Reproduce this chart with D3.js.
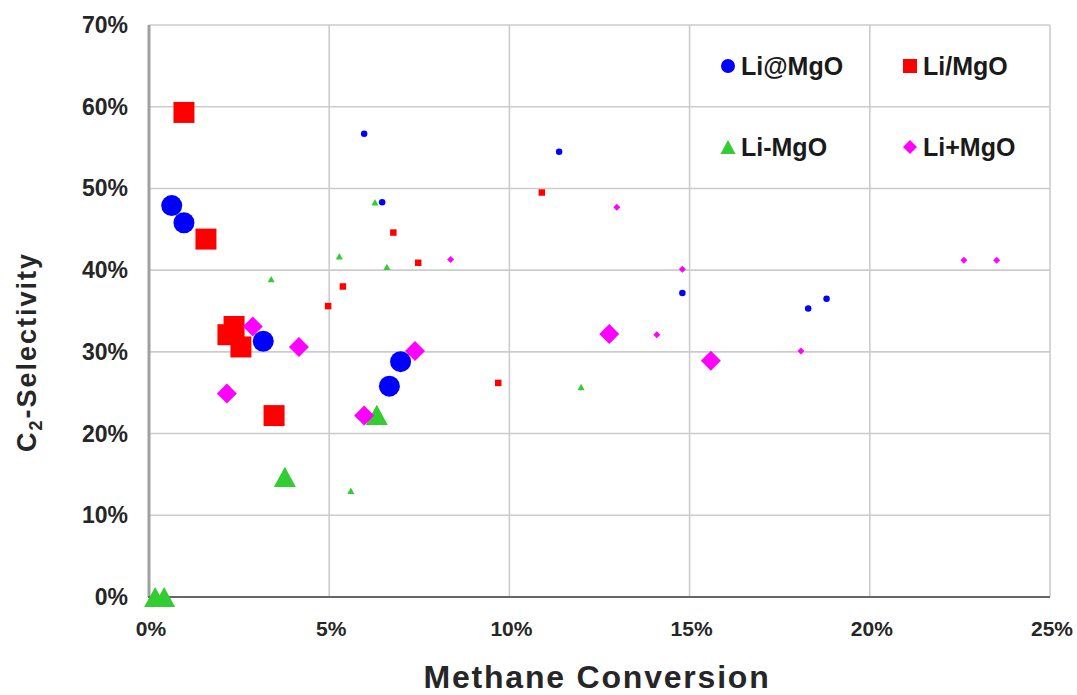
<!DOCTYPE html>
<html>
<head>
<meta charset="utf-8">
<script src="https://cdn.jsdelivr.net/npm/d3@7"></script>
<style>
    html, body { margin: 0; padding: 0; background: #fff; }
    svg { display: block; font-family: 'Liberation Sans', Arial, sans-serif; }
</style>
</head>
<body>
<svg id="chart" width="1077" height="695"></svg>
<script>
// methane conversion (%), C2 selectivity (%)
var liAtMgOBig = [[0.63, 47.9], [0.97, 45.8], [3.17, 31.3], [6.67, 25.8], [6.98, 28.8]];
var liAtMgOSmall = [[5.97, 56.7], [6.47, 48.3], [11.38, 54.5], [14.8, 37.2], [18.29, 35.3], [18.8, 36.5]];

var liSlashMgOBig = [[0.97, 59.3], [1.58, 43.8], [2.19, 32.1], [2.36, 33.1], [2.55, 30.6], [3.47, 22.2]];
var liSlashMgOSmall = [[6.78, 44.6], [7.47, 40.9], [5.38, 38.0], [4.97, 35.6], [10.9, 49.5], [9.69, 26.2]];

var liDashMgOBig = [[0.17, 0], [0.42, 0], [3.77, 14.7], [6.32, 22.3]];
var liDashMgOSmall = [[5.6, 13.0], [3.39, 38.9], [5.28, 41.7], [6.27, 48.3], [6.6, 40.4], [11.99, 25.7]];

var liPlusMgOBig = [[2.88, 33.1], [4.16, 30.6], [2.16, 24.9], [5.97, 22.2], [7.38, 30.1], [12.77, 32.2], [15.59, 28.9]];
var liPlusMgOSmall = [[8.37, 41.3], [12.98, 47.7], [14.8, 40.1], [14.09, 32.1], [18.09, 30.1], [22.61, 41.2], [23.52, 41.2]];

var xTicks = [0, 5, 10, 15, 20, 25];
var yTicks = [0, 10, 20, 30, 40, 50, 60, 70];
var seriesNames = ['Li@MgO', 'Li/MgO', 'Li-MgO', 'Li+MgO'];

(function () {

    var svg = d3.select('#chart');

    var left = 149, right = 1050, top = 25, bottom = 597;

    var x = d3.scaleLinear().domain([0, 25]).range([left, right]);
    var y = d3.scaleLinear().domain([0, 70]).range([bottom, top]);

    // marker shapes, size = width squared
    var shapes = {
        circle: { draw: function (c, s) { var r = Math.sqrt(s) / 2; c.moveTo(r, 0); c.arc(0, 0, r, 0, 2 * Math.PI); } },
        square: { draw: function (c, s) { var h = Math.sqrt(s) / 2; c.rect(-h, -h, 2 * h, 2 * h); } },
        triangle: { draw: function (c, s) {
            var w = Math.sqrt(s), h = w * 0.92;
            c.moveTo(0, -h / 2); c.lineTo(w / 2, h / 2); c.lineTo(-w / 2, h / 2); c.closePath();
        } },
        diamond: { draw: function (c, s) {
            var h = Math.sqrt(s) / 2;
            c.moveTo(0, -h); c.lineTo(h, 0); c.lineTo(0, h); c.lineTo(-h, 0); c.closePath();
        } }
    };

    var series = [
        { name: seriesNames[1], shape: 'square', color: '#ff0000', big: liSlashMgOBig, small: liSlashMgOSmall, bw: 21, sw: 6.5, lw: 14 },
        { name: seriesNames[2], shape: 'triangle', color: '#33cc33', big: liDashMgOBig, small: liDashMgOSmall, bw: 22, sw: 7, lw: 15 },
        { name: seriesNames[3], shape: 'diamond', color: '#ff00ff', big: liPlusMgOBig, small: liPlusMgOSmall, bw: 20, sw: 7, lw: 14 },
        { name: seriesNames[0], shape: 'circle', color: '#0000ff', big: liAtMgOBig, small: liAtMgOSmall, bw: 21, sw: 6.5, lw: 14 }
    ];

    // grid
    svg.append('g').selectAll('line.hg')
        .data(yTicks.slice(1))
        .enter().append('line')
        .attr('x1', left).attr('x2', right)
        .attr('y1', function (d) { return y(d); })
        .attr('y2', function (d) { return y(d); })
        .attr('stroke', '#cccccc')
        .attr('stroke-width', 1.6);

    svg.append('g').selectAll('line.vg')
        .data(xTicks.slice(1))
        .enter().append('line')
        .attr('y1', top).attr('y2', bottom)
        .attr('x1', function (d) { return x(d); })
        .attr('x2', function (d) { return x(d); })
        .attr('stroke', '#cccccc')
        .attr('stroke-width', 1.6);

    // axes
    svg.append('line')
        .attr('x1', left).attr('x2', left)
        .attr('y1', top).attr('y2', bottom)
        .attr('stroke', '#a0a0a0')
        .attr('stroke-width', 3);

    svg.append('line')
        .attr('x1', left - 1).attr('x2', right)
        .attr('y1', bottom).attr('y2', bottom)
        .attr('stroke', '#666666')
        .attr('stroke-width', 2);

    // tick labels
    svg.append('g').selectAll('text')
        .data(yTicks)
        .enter().append('text')
        .attr('x', 128)
        .attr('y', function (d) { return y(d) + 8; })
        .attr('text-anchor', 'end')
        .attr('font-size', 23)
        .attr('font-weight', 'bold')
        .attr('fill', '#262626')
        .text(function (d) { return d + '%'; });

    svg.append('g').selectAll('text')
        .data(xTicks)
        .enter().append('text')
        .attr('x', function (d) { return x(d) + 2; })
        .attr('y', 636)
        .attr('text-anchor', 'middle')
        .attr('font-size', 21)
        .attr('font-weight', 'bold')
        .attr('fill', '#262626')
        .text(function (d) { return d + '%'; });

    // axis titles
    svg.append('text')
        .attr('x', 597)
        .attr('y', 688)
        .attr('text-anchor', 'middle')
        .attr('font-size', 32)
        .attr('font-weight', 'bold')
        .attr('letter-spacing', 1.8)
        .attr('fill', '#262626')
        .text('Methane Conversion');

    var yTitle = svg.append('text')
        .attr('transform', 'translate(36, 352) rotate(-90)')
        .attr('text-anchor', 'middle')
        .attr('font-size', 27)
        .attr('font-weight', 'bold')
        .attr('letter-spacing', 2)
        .attr('fill', '#262626');
    yTitle.append('tspan').text('C');
    yTitle.append('tspan').attr('font-size', 18).attr('dy', 6).text('2');
    yTitle.append('tspan').attr('dy', -6).text('-Selectivity');

    // points
    series.forEach(function (s) {
        var g = svg.append('g');
        [['small', s.sw], ['big', s.bw]].forEach(function (grp) {
            g.selectAll('path.' + grp[0])
                .data(s[grp[0]])
                .enter().append('path')
                .attr('class', grp[0])
                .attr('d', d3.symbol().type(shapes[s.shape]).size(grp[1] * grp[1]))
                .attr('transform', function (d) { return 'translate(' + x(d[0]) + ',' + y(d[1]) + ')'; })
                .attr('fill', s.color);
        });
    });

    // legend
    var legendPos = { 'Li@MgO': [728, 66], 'Li/MgO': [910, 66], 'Li-MgO': [728, 147], 'Li+MgO': [910, 147] };
    var legend = svg.append('g').selectAll('g')
        .data(series)
        .enter().append('g')
        .attr('transform', function (d) { return 'translate(' + legendPos[d.name][0] + ',' + legendPos[d.name][1] + ')'; });

    legend.append('path')
        .attr('d', function (d) { return d3.symbol().type(shapes[d.shape]).size(d.lw * d.lw)(); })
        .attr('fill', function (d) { return d.color; });

    legend.append('text')
        .attr('x', 13)
        .attr('y', 9)
        .attr('font-size', 25)
        .attr('font-weight', 'bold')
        .attr('fill', '#1a1a1a')
        .text(function (d) { return d.name; });

})();
</script>
</body>
</html>
